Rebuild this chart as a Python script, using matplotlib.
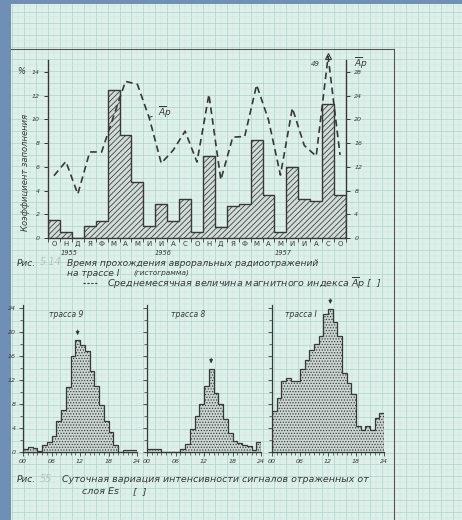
import numpy as np
import matplotlib.pyplot as plt
from matplotlib.patches import Rectangle

plt.rcParams['font.family'] = 'DejaVu Sans'
plt.rcParams['font.style'] = 'italic'
plt.rcParams['mathtext.fontset'] = 'dejavusans'
plt.rcParams['hatch.linewidth'] = 0.55

# monthly data, Oct 1955 .. Oct 1957
months = ['О', 'Н', 'Д', 'Я', 'Ф', 'М', 'А', 'М', 'И', 'И', 'А', 'С',
          'О', 'Н', 'Д', 'Я', 'Ф', 'М', 'А', 'М', 'И', 'И', 'А', 'С', 'О']
years = ['1955', '1956', '1957']
year_pos = [1.75, 9.7, 19.7]
fill_pct = [1.5, 0.5, 0.0, 1.0, 1.4, 12.5, 8.7, 4.7, 1.0, 2.9, 1.4, 3.3, 0.5,
            6.9, 0.9, 2.7, 2.9, 8.3, 3.6, 0.5, 6.0, 3.3, 3.1, 11.3, 3.6]
ap_index = [10.5, 12.9, 7.4, 14.5, 14.5, 20.5, 26.4, 25.9, 20.2, 12.6, 14.8, 18.0, 12.8,
            24.2, 9.8, 17.0, 17.1, 25.8, 19.9, 10.6, 21.9, 15.6, 13.8, 49.0, 14.0]

# diurnal histograms, hourly bins 00..24
hours = np.arange(25)
route9 = [0.5, 0.8, 0.6, 0.2, 1.1, 1.7, 2.7, 5.1, 7.0, 10.8, 16.0, 18.6,
          17.8, 16.8, 13.5, 11.0, 7.9, 5.1, 3.4, 1.2, 0.0, 0.4, 0.4, 0.4]
route8 = [0.5, 0.5, 0.5, 0.0, 0.0, 0.0, 0.0, 0.5, 1.3, 3.8, 6.0, 8.0,
          11.0, 13.9, 9.9, 8.0, 5.5, 3.2, 1.8, 1.5, 1.1, 1.0, 0.3, 1.7]
route1 = [6.8, 9.0, 11.8, 12.4, 11.8, 11.8, 13.8, 15.4, 17.0, 18.0, 19.4, 23.0,
          23.8, 21.6, 19.4, 13.2, 11.5, 9.6, 4.3, 3.7, 4.3, 3.7, 5.7, 6.5]
routes = [('трасса 9', route9, 9.0), ('трасса 8', route8, 8.6), ('трасса I', route1, 6.2)]

W, H = 462, 520
ink = '#383838'
paper = '#dff0ea'
grid_major = '#a9d4ca'
grid_minor = '#c6e4dc'

fig = plt.figure(figsize=(W / 100, H / 100), dpi=100, facecolor='#6f8fb6')


def px_axes(x0, y0, x1, y1):
    return fig.add_axes([x0 / W, 1 - y1 / H, (x1 - x0) / W, (y1 - y0) / H])


# paper + grid
bg = fig.add_axes([0, 0, 1, 1], zorder=-5)
bg.set_xlim(0, W)
bg.set_ylim(H, 0)
bg.axis('off')
bg.add_patch(Rectangle((11, 4), W, H, color=paper, lw=0))
step = 11.92 / 2
for i, x in enumerate(np.arange(48 - step * 6, W, step)):
    if x > 11:
        bg.plot([x, x], [4, H], color=grid_major if i % 2 == 0 else grid_minor,
                lw=0.5 if i % 2 == 0 else 0.35)
for i, y in enumerate(np.arange(238 - step * 40, H, step)):
    if y > 4:
        bg.plot([11, W], [y, y], color=grid_major if i % 2 == 0 else grid_minor,
                lw=0.5 if i % 2 == 0 else 0.35)
bg.plot([11, 394], [49, 49], color='#555555', lw=0.8)
bg.plot([394, 394], [49, H], color='#555555', lw=0.8)

# ---- top chart
ax = px_axes(48, 60, 346, 238)
ax.patch.set_alpha(0)
ax.set_xlim(0, 25)
ax.set_ylim(0, 15)
ax.stairs(fill_pct, np.arange(26), baseline=0, fill=True, facecolor='#cfdcd8',
          edgecolor=ink, hatch='//////', lw=1.0)
ax2 = ax.twinx()
ax2.set_ylim(0, 30)
ap_plot = np.minimum(ap_index, 30.6)
ax2.plot(np.arange(25) + 0.5, ap_plot, ls=(0, (4, 2.5)), color=ink, lw=1.2, clip_on=False)
pk = int(np.argmax(ap_index))
ax2.plot(pk + 0.5, ap_plot[pk], marker='^', ms=4, mfc='none', mec=ink, mew=0.8, clip_on=False)
ax2.text(pk - 0.6, 29.3, '%g' % ap_index[pk], fontsize=5, color=ink, ha='center', va='center')
ax2.annotate(r'$\overline{A}p$', xy=(8.3, 20.2), xytext=(9.2, 21.2), fontsize=6.5,
             color=ink, va='center', arrowprops=dict(arrowstyle='-', color=ink, lw=0.7))

for a in (ax, ax2):
    a.spines['top'].set_visible(False)
    for s in a.spines.values():
        s.set_color(ink)
        s.set_linewidth(1.0)
ax2.spines['left'].set_visible(False)
ax2.spines['bottom'].set_visible(False)
ax.spines['right'].set_visible(False)

ax.set_yticks(range(0, 15, 2))
ax2.set_yticks(range(0, 29, 4))
for a in (ax, ax2):
    a.tick_params(axis='y', labelsize=4.5, length=3, width=0.7, pad=3, colors=ink)
ax.set_xticks(np.arange(26))
ax.set_xticklabels([])
ax.set_xticks(np.arange(25) + 0.5, minor=True)
ax.set_xticklabels(months, minor=True, fontsize=5, style='normal')
ax.tick_params(axis='x', which='major', length=3, width=0.6, colors=ink)
ax.tick_params(axis='x', which='minor', length=0, pad=2, colors=ink)
for yr, p in zip(years, year_pos):
    ax.text(p, -0.085, yr, transform=ax.get_xaxis_transform(), fontsize=4.8,
            color=ink, ha='center', va='center')

bg.text(17, 72, '%', fontsize=6, color=ink, va='center')
bg.text(354, 63, r'$\overline{A}p$', fontsize=6.5, color=ink, va='center')
bg.text(26, 172, 'Коэффициент заполнения', fontsize=6, color=ink, rotation=90,
        ha='center', va='center')

# top caption
bg.text(17, 263, 'Рис.', fontsize=6.5, color=ink, va='center')
bg.text(40, 262, '5.14', fontsize=7, color='#b3c6c1', va='center')
bg.text(67, 263, 'Время прохождения авроральных радиоотражений', fontsize=6.6,
        color=ink, va='center')
bg.text(67, 273, 'на трассе I', fontsize=6.6, color=ink, va='center')
bg.text(133, 273, '(гистограмма)', fontsize=5.3, color=ink, va='center')
bg.plot([83, 98], [283, 283], ls=(0, (2, 1.5)), color=ink, lw=0.8)
bg.text(107, 283, r'Среднемесячная величина магнитного индекса $\overline{A}p$ [  ]',
        fontsize=6.8, color=ink, va='center')

# ---- bottom histograms
boxes = [(23, 137), (147, 261), (272, 384)]
for k, ((name, vals, tx), (x0, x1)) in enumerate(zip(routes, boxes)):
    h = px_axes(x0, 305, x1, 452)
    h.patch.set_alpha(0)
    h.set_xlim(0, 24)
    h.set_ylim(0, 24.5)
    h.stairs(vals, hours, baseline=0, fill=True, facecolor='#c9d5d1',
             edgecolor=ink, hatch='......', lw=0.9)
    for s in ('top', 'right'):
        h.spines[s].set_visible(False)
    for s in ('left', 'bottom'):
        h.spines[s].set_color(ink)
        h.spines[s].set_linewidth(0.9)
    h.set_xticks([0, 6, 12, 18, 24])
    h.set_xticklabels(['00', '06', '12', '18', '24'], fontsize=4.5)
    h.set_xticks(hours, minor=True)
    h.set_yticks(range(0, 25, 4))
    h.set_yticks(range(0, 25, 2), minor=True)
    if k > 0:
        h.set_yticklabels([])
    h.tick_params(which='major', labelsize=4.5, length=3, width=0.6, pad=2, colors=ink)
    h.tick_params(which='minor', length=2, width=0.5, colors=ink)
    h.text(tx, 23.0, name, fontsize=5.5, color=ink, ha='center', va='center')
    m = int(np.argmax(vals))
    h.annotate('', xy=(m + 0.5, vals[m] + 0.4), xytext=(m + 0.5, vals[m] + 2.2),
               arrowprops=dict(arrowstyle='-|>', color=ink, lw=0.7, mutation_scale=5),
               annotation_clip=False)

# bottom caption
bg.text(17, 480, 'Рис.', fontsize=6.5, color=ink, va='center')
bg.text(40, 479, '55', fontsize=7, color='#b3c6c1', va='center')
bg.text(62, 480, 'Суточная вариация интенсивности сигналов отраженных от',
        fontsize=6.8, color=ink, va='center')
bg.text(82, 491, 'слоя Es', fontsize=6.8, color=ink, va='center')
bg.text(133, 492, '[  ]', fontsize=6.8, color=ink, va='center')

fig.savefig('out.png', dpi=100, facecolor=fig.get_facecolor())
